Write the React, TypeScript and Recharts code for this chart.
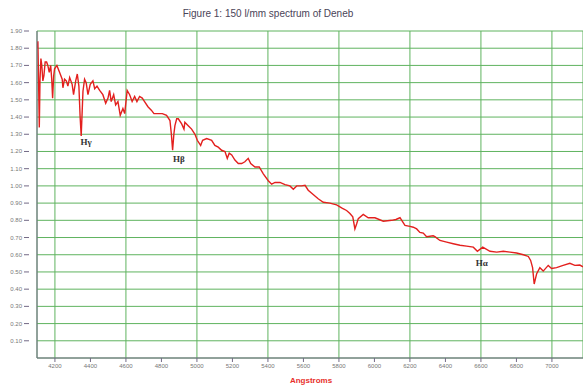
import { LineChart, Line, XAxis, YAxis, CartesianGrid, ReferenceDot } from 'recharts'

// wavelength (Angstroms)
const wavelengths = [
  4099, 4104, 4108, 4112, 4116, 4121, 4126, 4132, 4138, 4145, 4153, 4160, 4168, 4176, 4182, 4187, 4193, 4198,
  4211, 4226, 4241, 4245, 4254, 4264, 4273, 4283, 4297, 4305, 4317, 4326, 4335, 4342, 4348, 4353, 4358, 4367,
  4376, 4386, 4399, 4414, 4424, 4437, 4452, 4470, 4486, 4499, 4508, 4517, 4531, 4542, 4555, 4568, 4583, 4593,
  4607, 4621, 4635, 4649, 4662, 4677, 4692, 4705, 4724, 4743, 4758, 4780, 4805, 4829, 4848, 4856, 4863, 4870,
  4876, 4886, 4895, 4914, 4927, 4932, 4951, 4970, 4989, 5002, 5021, 5032, 5055, 5083, 5101, 5120, 5139, 5158,
  5171, 5182, 5196, 5214, 5233, 5252, 5270, 5289, 5303, 5327, 5351, 5374, 5402, 5421, 5440, 5468, 5496, 5524,
  5543, 5562, 5590, 5609, 5627, 5655, 5683, 5712, 5749, 5787, 5820, 5843, 5862, 5878, 5890, 5900, 5909, 5937,
  5965, 6003, 6050, 6097, 6121, 6144, 6172, 6200, 6219, 6238, 6256, 6275, 6294, 6331, 6341, 6369, 6407, 6444,
  6482, 6519, 6557, 6580, 6610, 6651, 6689, 6726, 6764, 6801, 6839, 6867, 6880, 6891, 6900, 6914, 6932, 6951,
  6979, 6998, 7026, 7063, 7101, 7129, 7157, 7175,
]

// relative intensity at each wavelength
const intensity = [
  1.8, 1.84, 1.6, 1.34, 1.62, 1.74, 1.7, 1.61, 1.64, 1.72, 1.72, 1.7, 1.66, 1.7, 1.62, 1.51, 1.64, 1.68,
  1.7, 1.66, 1.62, 1.57, 1.62, 1.61, 1.58, 1.63, 1.59, 1.53, 1.61, 1.65, 1.58, 1.4, 1.29, 1.42, 1.55, 1.62,
  1.6, 1.53, 1.59, 1.61, 1.565, 1.58, 1.555, 1.53, 1.48, 1.51, 1.555, 1.49, 1.53, 1.47, 1.49, 1.41, 1.45, 1.42,
  1.555, 1.53, 1.49, 1.52, 1.49, 1.52, 1.51, 1.49, 1.46, 1.44, 1.42, 1.42, 1.42, 1.41, 1.38, 1.3, 1.207, 1.3,
  1.35, 1.39, 1.39, 1.36, 1.33, 1.37, 1.35, 1.33, 1.3, 1.265, 1.235, 1.265, 1.275, 1.265, 1.235, 1.225, 1.207, 1.2,
  1.16, 1.19, 1.18, 1.15, 1.13, 1.13, 1.14, 1.16, 1.13, 1.11, 1.11, 1.07, 1.03, 1.01, 1.02, 1.02, 1.007, 1.0,
  0.98, 1.0, 1.0, 1.003, 0.975, 0.95, 0.925, 0.905, 0.9, 0.89, 0.87, 0.857, 0.84, 0.82, 0.75, 0.78, 0.81, 0.834,
  0.815, 0.815, 0.795, 0.8, 0.805, 0.815, 0.77, 0.765, 0.76, 0.75, 0.73, 0.726, 0.705, 0.71, 0.705, 0.683, 0.673, 0.664,
  0.655, 0.65, 0.644, 0.62, 0.644, 0.62, 0.615, 0.62, 0.615, 0.61, 0.6, 0.59, 0.567, 0.525, 0.43, 0.49, 0.525, 0.505,
  0.538, 0.52, 0.525, 0.538, 0.55, 0.538, 0.54, 0.53,
]

const xTicks = [4200, 4400, 4600, 4800, 5000, 5200, 5400, 5600, 5800, 6000, 6200, 6400, 6600, 6800, 7000]
const yTicks = [0, 0.1, 0.2, 0.3, 0.4, 0.5, 0.6, 0.7, 0.8, 0.9, 1.0, 1.1, 1.2, 1.3, 1.4, 1.5, 1.6, 1.7, 1.8, 1.9]

// line labels: name, wavelength, intensity where the label sits
const lineNames = ['Hγ', 'Hβ', 'Hα']
const lineWaves = [4375, 4898, 6605]
const lineLevels = [1.255, 1.16, 0.555]

const data = wavelengths.map((w, i) => ({ w, v: intensity[i] }))

const axisColor = '#736a86'
const gridColor = '#5fb35f'

const YTick = (props: any) => {
  const { x, y, payload } = props
  if (payload.value === 0) return null
  return (
    <g>
      <line x1={x - 5} x2={x} y1={y} y2={y} stroke={axisColor} />
      <text x={x - 7} y={y} dy={2} textAnchor="end" fontSize={6} fill="#777" fontFamily="Arial, Liberation Sans">
        {payload.value.toFixed(2)}
      </text>
    </g>
  )
}

export default function App() {
  return (
    <div style={{ position: 'absolute', left: 0, top: 0, width: 583, height: 387, background: '#fff' }}>
      <div
        style={{
          position: 'absolute', left: 0, width: 536, top: 8, textAlign: 'center',
          fontFamily: 'Arial, "Liberation Sans"', fontSize: 10, color: '#4a4458',
        }}
      >
        Figure 1: 150 l/mm spectrum of Deneb
      </div>
      <LineChart width={583} height={387} data={data} margin={{ top: 31, right: 0, bottom: 0, left: 0 }}>
        <CartesianGrid stroke={gridColor} strokeWidth={1} />
        <XAxis
          dataKey="w"
          type="number"
          domain={[4099, 7175]}
          ticks={xTicks}
          allowDataOverflow
          height={29}
          stroke={axisColor}
          tickSize={4}
          tick={{ fontSize: 6, fill: '#777', fontFamily: 'Arial, Liberation Sans' }}
        />
        <YAxis
          type="number"
          domain={[0, 1.9]}
          ticks={yTicks}
          width={37}
          stroke={axisColor}
          tickLine={false}
          tick={<YTick />}
          interval={0}
        />
        <Line
          dataKey="v"
          type="linear"
          stroke="#e3201e"
          strokeWidth={1.4}
          dot={false}
          isAnimationActive={false}
        />
        {lineNames.map((n, i) => (
          <ReferenceDot
            key={n}
            x={lineWaves[i]}
            y={lineLevels[i]}
            r={0}
            fill="none"
            stroke="none"
            label={{ value: n, fontSize: 9, fill: '#333', fontFamily: '"Liberation Serif", Times, serif', fontWeight: 'bold' }}
          />
        ))}
      </LineChart>
      <div
        style={{
          position: 'absolute', left: 270, width: 82, top: 376, textAlign: 'center',
          fontFamily: 'Arial, "Liberation Sans"', fontSize: 8, fontWeight: 'bold', color: '#e8302a',
        }}
      >
        Angstroms
      </div>
    </div>
  )
}
